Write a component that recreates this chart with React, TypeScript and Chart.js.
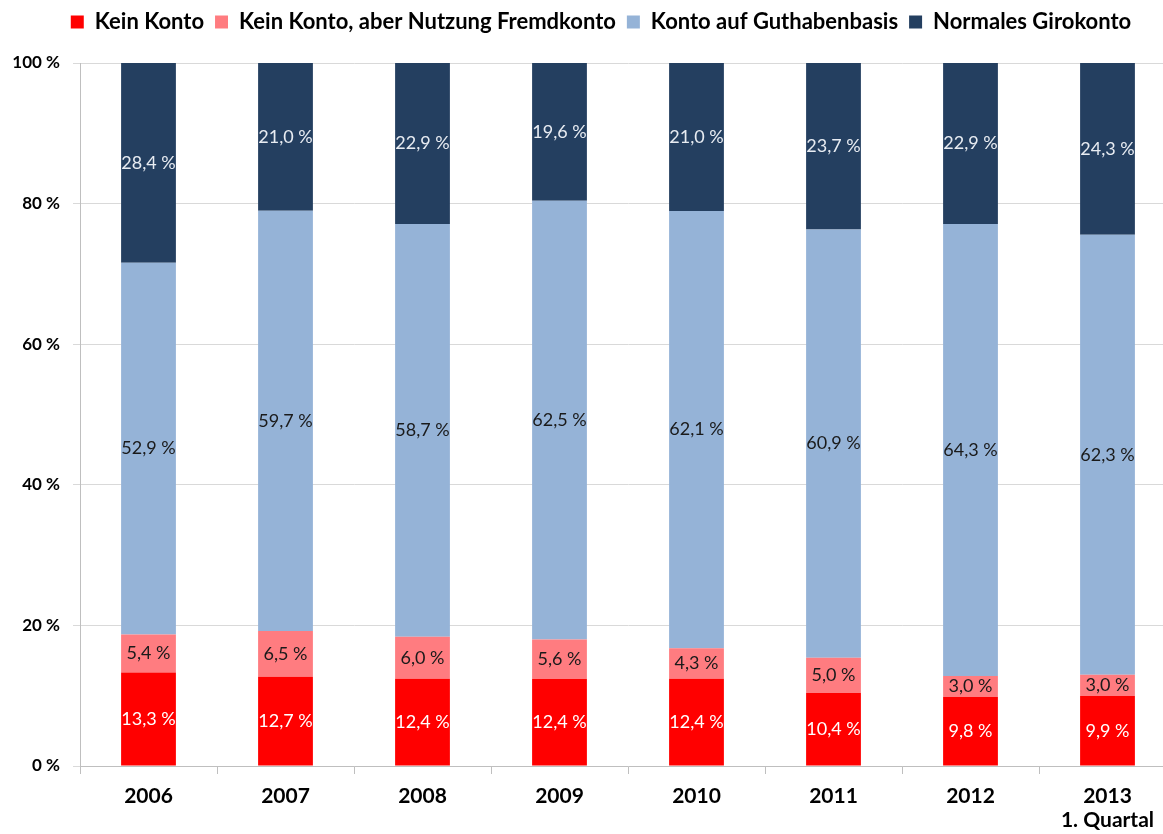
import React, { useEffect, useRef } from "react";
import { Chart, registerables } from "chart.js";

Chart.register(...registerables);

const categories: (string | string[])[] = ["2006", "2007", "2008", "2009", "2010", "2011", "2012", ["2013", "1. Quartal"]];
const keinKonto = [13.3, 12.7, 12.4, 12.4, 12.4, 10.4, 9.8, 9.9];
const fremdkonto = [5.4, 6.5, 6.0, 5.6, 4.3, 5.0, 3.0, 3.0];
const guthabenbasis = [52.9, 59.7, 58.7, 62.5, 62.1, 60.9, 64.3, 62.3];
const girokonto = [28.4, 21.0, 22.9, 19.6, 21.0, 23.7, 22.9, 24.3];
const seriesNames = ["Kein Konto", "Kein Konto, aber Nutzung Fremdkonto", "Konto auf Guthabenbasis", "Normales Girokonto"];
const yTicks = [0, 20, 40, 60, 80, 100];

const FONT = "Lato, 'Open Sans', sans-serif";
const labelColors = ["#ffffff", "#1a1a1a", "#1a1a1a", "#e8ecf2"];

const fmt = (v: number) => v.toFixed(1).replace(".", ",") + " %";

const dataLabels = {
  id: "dataLabels",
  afterDatasetsDraw(chart: any) {
    const ctx = chart.ctx;
    ctx.save();
    ctx.font = `400 18px ${FONT}`;
    ctx.textAlign = "center";
    ctx.textBaseline = "middle";
    chart.data.datasets.forEach((ds: any, i: number) => {
      const meta = chart.getDatasetMeta(i);
      meta.data.forEach((el: any, j: number) => {
        const p = el.getProps(["x", "y", "base"], true);
        ctx.fillStyle = labelColors[i];
        ctx.fillText(fmt(ds.raw[j]), p.x, (p.y + p.base) / 2);
      });
    });
    ctx.restore();
  },
};

const legendTweak = {
  id: "legendTweak",
  beforeInit(chart: any) {
    const legend = chart.legend;
    if (legend) {
      const orig = legend.fit.bind(legend);
      legend.fit = function () {
        orig();
        this.height = 63;
      };
    }
  },
  afterLayout(chart: any) {
    const legend = chart.legend;
    if (legend) {
      legend.left += 13;
      legend.right += 13;
    }
  },
};

export default function App() {
  const ref = useRef<HTMLCanvasElement | null>(null);
  useEffect(() => {
    if (!ref.current) return;
    const colors = ["#ff0000", "#ff7c80", "#95b3d7", "#243f60"];
    const values = [keinKonto, fremdkonto, guthabenbasis, girokonto];
    const totals = categories.map((_, j) => values.reduce((s, arr) => s + arr[j], 0));
    const chart = new Chart(ref.current, {
      type: "bar",
      data: {
        labels: categories,
        datasets: values.map((d, i) => ({
          label: seriesNames[i],
          data: d.map((v, j) => (v / totals[j]) * 100),
          raw: d,
          backgroundColor: colors[i],
          borderWidth: 0,
          barPercentage: 0.4,
          categoryPercentage: 1,
        })),
      },
      options: {
        animation: false,
        responsive: false,
        layout: { padding: 0 },
        plugins: {
          legend: {
            position: "top",
            labels: {
              boxWidth: 13,
              boxHeight: 13,
              padding: 11,
              color: "#000",
              font: { family: FONT, size: 22, weight: "bold" },
            },
          },
          tooltip: { enabled: false },
        },
        scales: {
          x: {
            stacked: true,
            afterFit: (s: any) => {
              s.height = 68;
            },
            grid: { display: true, drawOnChartArea: false, drawTicks: true, tickLength: 8, color: "#bfbfbf" },
            border: { color: "#bfbfbf" },
            ticks: { color: "#000", padding: 10, font: { family: FONT, size: 21, weight: "bold", lineHeight: 1.15 } },
          },
          y: {
            stacked: true,
            min: 0,
            max: 100,
            afterFit: (s: any) => {
              s.width = 80;
            },
            afterBuildTicks: (s: any) => {
              s.ticks = yTicks.map((v) => ({ value: v }));
            },
            grid: { color: "#d9d9d9", tickLength: 7, tickColor: "#d9d9d9" },
            border: { color: "#bfbfbf" },
            ticks: {
              color: "#000",
              padding: 13,
              font: { family: FONT, size: 17, weight: "bold" },
              callback: (v: any) => `${v} %`,
            },
          },
        },
      },
      plugins: [dataLabels, legendTweak],
    } as any);
    return () => chart.destroy();
  }, []);
  return (
    <div style={{ position: "absolute", left: 0, top: 0, width: 1163, height: 834, overflow: "hidden", background: "#fff" }}>
      <canvas ref={ref} width={1176} height={834} style={{ display: "block" }} />
    </div>
  );
}
